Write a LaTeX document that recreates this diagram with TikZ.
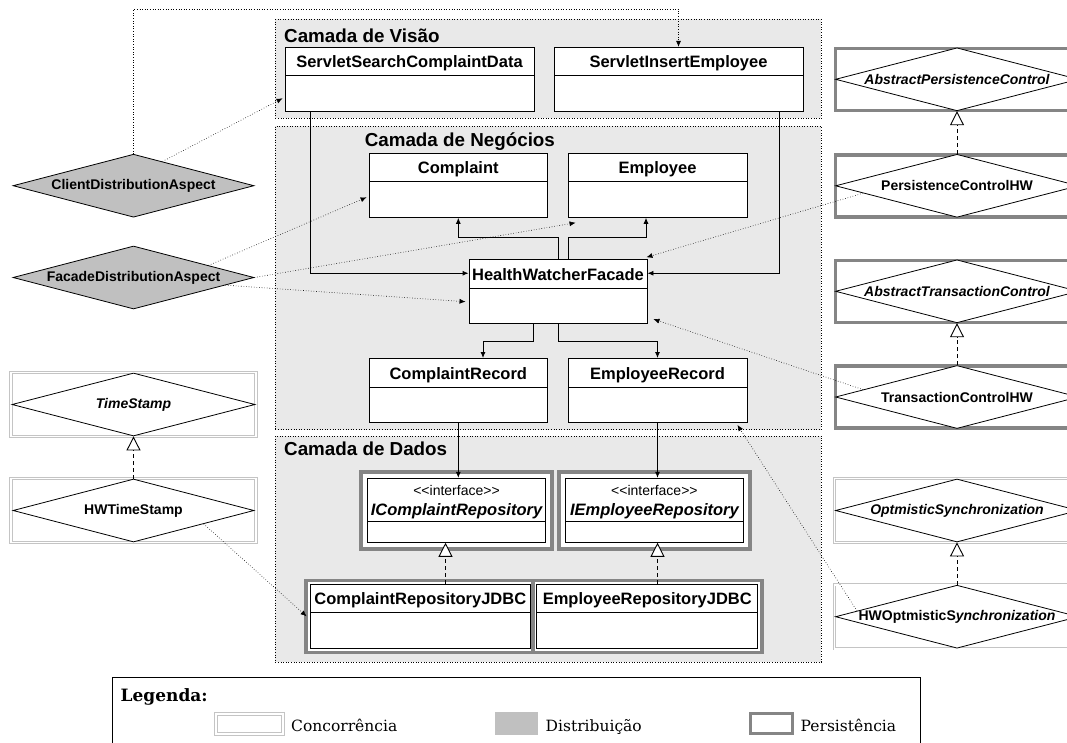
\documentclass[tikz,border=0pt]{standalone}
\usepackage{fontspec}
\setmainfont{Liberation Sans}
\newfontfamily\legendfont{DejaVu Serif}
\usetikzlibrary{shapes.geometric, arrows.meta, calc, fit, backgrounds}
\definecolor{layergray}{HTML}{E9E9E9}
\definecolor{distgray}{HTML}{C0C0C0}
\definecolor{persistgray}{HTML}{858585}
\definecolor{concgray}{HTML}{C4C4C4}
\newcommand{\ifacetag}{\textless\kern0pt\textless interface\textgreater\kern0pt\textgreater}
\tikzset{
    x=1pt, y=-1pt, % pixel coordinates, y grows downwards
    umlbase/.style={draw, fill=white, line width=0.9pt, inner sep=0pt, minimum height=64pt,
        font=\fontsize{16.5}{19}\selectfont\bfseries}, % common look of the class boxes
    classbox/.style={umlbase, minimum width=#1, text height=20.5pt, text depth=43.5pt,
        path picture={\draw[line width=0.9pt] ([yshift=-28.5pt]path picture bounding box.north west) -- ([yshift=-28.5pt]path picture bounding box.north east);}},
    ifacebox/.style={umlbase, minimum width=#1, font=\fontsize{16.5}{19}\selectfont\bfseries\itshape,
        text height=37.5pt, text depth=26.5pt,
        path picture={\draw[line width=0.9pt] ([yshift=-42.7pt]path picture bounding box.north west) -- ([yshift=-42.7pt]path picture bounding box.north east);}},
    stereo/.style={inner sep=0pt, font=\fontsize{14}{16}\selectfont}, % <<interface>>
    layer/.style={draw, dotted, line width=0.6pt, fill=layergray, inner sep=0pt},
    layertitle/.style={anchor=base west, inner sep=0pt, font=\fontsize{18.8}{22}\selectfont\bfseries},
    aspectnode/.style={diamond, draw, line width=0.8pt, fill=white, inner sep=0pt, aspect=3.8,
        minimum width=#1, minimum height=63pt, font=\fontsize{14}{16}\selectfont\bfseries,
        execute at begin node=\hbox to 0pt\bgroup\hss, execute at end node=\hss\egroup},
    aspectnode/.default=243pt,
    abstractaspect/.style={aspectnode, font=\fontsize{14}{16}\selectfont\bfseries\itshape},
    distaspect/.style={aspectnode=241pt, fill=distgray},
    persistbox/.style={draw=persistgray, line width=3.5pt, fill=white, inner sep=0pt,
        minimum width=243pt, minimum height=62pt}, % Persistencia
    concbox/.style={draw=concgray, line width=0.7pt, double=white, double distance=1.8pt, fill=white,
        inner sep=0pt, minimum width=245pt, minimum height=64pt}, % Concorrencia
    persistwrap/.style={draw=persistgray, line width=3.5pt, fill=white, inner sep=#1},
    assoc/.style={line width=0.9pt, -{Latex[length=6pt, width=5pt]}},
    crosscut/.style={dotted, line width=0.6pt, -{Latex[length=6pt, width=5pt]}},
    realize/.style={line width=0.9pt, dash pattern=on 4pt off 3pt, -{Triangle[length=14pt, width=14pt, fill=white]}},
    legendtext/.style={anchor=base west, inner sep=0pt, font=\legendfont\fontsize{15.5}{18}\selectfont},
}
\begin{document}
\begin{tikzpicture}
\useasboundingbox (0,0) rectangle (1067,742);
% classes
\node[classbox=249pt] (ssc) at (409.5,79.3) {ServletSearchComplaintData};
\node[classbox=249pt] (sie) at (678.5,79.3) {ServletInsertEmployee};
\node[classbox=178.5pt] (complaint) at (458.3,185.3) {Complaint};
\node[classbox=179pt] (employee) at (657.5,185.3) {Employee};
\node[classbox=178pt] (hwf) at (558,291.7) {HealthWatcherFacade};
\node[classbox=178.5pt] (crec) at (458.3,390.5) {ComplaintRecord};
\node[classbox=179pt] (erec) at (657.5,390.5) {EmployeeRecord};
\node[ifacebox=178.4pt] (icr) at (456.5,510.3) {IComplaintRepository};
\node[ifacebox=178pt] (ier) at (654.4,510.3) {IEmployeeRepository};
\node[stereo] (icrst) at ($(icr.north)+(0,13)$) {\ifacetag};
\node[stereo] (ierst) at ($(ier.north)+(0,13)$) {\ifacetag};
\node[classbox=220.6pt] (crj) at (420.3,616.3) {ComplaintRepositoryJDBC};
\node[classbox=221pt] (erj) at (647.3,616.3) {EmployeeRepositoryJDBC};
% layers and persistence frames
\begin{scope}[on background layer]
  \node[layer, minimum width=546pt, minimum height=99pt] (visao) at (548.3,68.8) {};
  \node[layer, minimum width=546pt, minimum height=303.5pt] (negocios) at (548.3,277.8) {};
  \node[layer, minimum width=546pt, minimum height=226pt] (dados) at (548.3,549) {};
  \node[persistwrap=6pt, fit=(icr)] (icrwrap) {};
  \node[persistwrap=6pt, fit=(ier)] (ierwrap) {};
  \node[persistwrap=3.5pt, fit=(crj)] (crjwrap) {};
  \node[persistwrap=3.5pt, fit=(erj)] (erjwrap) {};
\end{scope}
\node[layertitle] (visaotitle) at (284,42) {Camada de Visão};
\node[layertitle] (negociostitle) at (364.6,146) {Camada de Negócios};
\node[layertitle] (dadostitle) at (284,455.5) {Camada de Dados};
% aspects
\node[distaspect] (cda) at (133.5,185.7) {ClientDistributionAspect};
\node[distaspect] (fda) at (133.5,277.5) {FacadeDistributionAspect};
\node[concbox] (tsbox) at (133.5,404.5) {};
\node[abstractaspect=241pt] (ts) at (tsbox.center) {TimeStamp};
\node[concbox] (hwtsbox) at (133.5,510.5) {};
\node[aspectnode=241pt] (hwts) at (hwtsbox.center) {HWTimeStamp};
\node[persistbox] (apcbox) at (957,79.3) {};
\node[abstractaspect] (apc) at (apcbox.center) {AbstractPersistenceControl};
\node[persistbox] (pchwbox) at (957,185.8) {};
\node[aspectnode] (pchw) at (pchwbox.center) {PersistenceControlHW};
\node[persistbox] (atcbox) at (957,291.3) {};
\node[abstractaspect] (atc) at (atcbox.center) {AbstractTransactionControl};
\node[persistbox] (tchwbox) at (957,397) {};
\node[aspectnode] (tchw) at (tchwbox.center) {TransactionControlHW};
\node[concbox] (osbox) at (957,510.5) {};
\node[abstractaspect] (os) at (osbox.center) {OptmisticSynchronization};
\node[concbox] (hwosbox) at (957,616.7) {};
\node[aspectnode] (hwos) at (hwosbox.center) {HWOptmisticS\textit{ynchronization}};
% associations
\draw[assoc] ([xshift=26pt]ssc.south west) |- ([yshift=-14pt]hwf.north west);
\draw[assoc] ([xshift=-24pt]sie.south east) |- ([yshift=-14pt]hwf.north east);
\draw[assoc] (hwf.north) -- ++(0,-22) -| (complaint.south);
\draw[assoc] ([xshift=10pt]hwf.north) -- ++(0,-22) -| ([xshift=-11.5pt]employee.south);
\draw[assoc] ([xshift=-25pt]hwf.south) -- ++(0,17.5) -| ([xshift=24.7pt]crec.north);
\draw[assoc] (hwf.south) -- ++(0,17.5) -| (erec.north);
\draw[assoc] (crec.south) -- (crec.south |- icr.north);
\draw[assoc] (erec.south) -- (erec.south |- ier.north);
% realizations
\draw[realize] ($(icr.south |- crj.north)+(-11,0)$) -- ($(icr.south)+(-11,0)$);
\draw[realize] (erec.south |- erj.north) -- (erec.south |- ier.south);
\draw[realize] (pchw.north) -- (apc.south);
\draw[realize] (tchw.north) -- (atc.south);
\draw[realize] (hwos.north) -- (os.south);
\draw[realize] (hwts.north) -- (ts.south);
% crosscutting
\coordinate (topline) at (0,9);
\draw[crosscut] (cda.north) |- (topline -| sie.north) -- (sie.north);
\draw[crosscut] ($(cda.north)!0.24!(cda.east)$) -- ([yshift=-19pt, xshift=-2pt]ssc.west);
\draw[crosscut] ($(fda.north)!0.62!(fda.east)$) -- ([yshift=-12pt, xshift=-2pt]complaint.west);
\draw[crosscut] (fda.east) -- ([xshift=8pt, yshift=-5pt]employee.south west);
\draw[crosscut] ($(fda.east)!0.24!(fda.south)$) -- ([yshift=-10pt, xshift=-3pt]hwf.west);
\draw[crosscut] ($(pchw.west)!0.23!(pchw.south)$) -- ([xshift=-1pt, yshift=2pt]hwf.north east);
\draw[crosscut] ($(tchw.west)!0.23!(tchw.north)$) -- ([xshift=6pt, yshift=5pt]hwf.south east);
\draw[crosscut] ($(hwos.west)!0.18!(hwos.north)$) -- ([xshift=-10pt, yshift=-2pt]erec.south east);
\draw[crosscut] ($(hwts.east)!0.42!(hwts.south)$) -- ([xshift=-3pt]crj.west);
% legend
\node[draw, line width=0.8pt, minimum width=808pt, minimum height=90pt, anchor=north west, inner sep=0pt] (legend) at (112,677) {};
\node[anchor=base west, inner sep=0pt, font=\legendfont\bfseries\fontsize{17}{20}\selectfont] (legtitle) at (120.5,701) {Legenda:};
\node[concbox, minimum width=67pt, minimum height=20pt] (concsw) at (249.5,724) {};
\node[legendtext] (conctext) at (291,731.7) {Concorrência};
\node[fill=distgray, minimum width=43.5pt, minimum height=23pt, inner sep=0pt] (distsw) at (516.3,723.5) {};
\node[legendtext] (disttext) at (545.5,731.7) {Distribuição};
\node[persistbox, line width=3pt, minimum width=42pt, minimum height=20pt] (persw) at (771.5,723.5) {};
\node[legendtext] (pertext) at (800.5,731.7) {Persistência};
\end{tikzpicture}
\end{document}
